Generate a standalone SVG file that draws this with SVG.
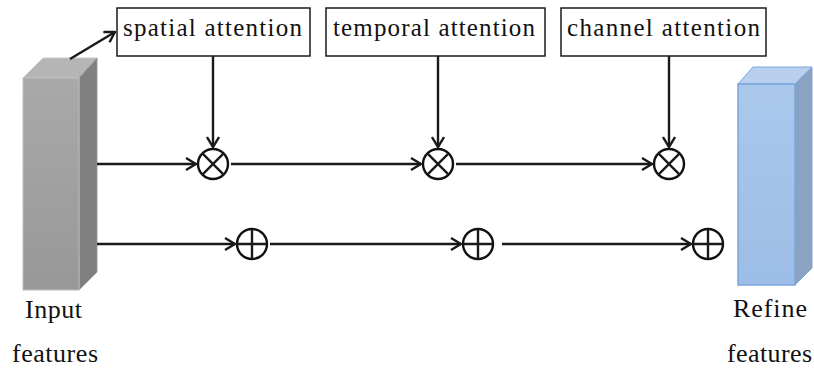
<svg xmlns="http://www.w3.org/2000/svg" width="814" height="369" viewBox="0 0 814 369">
<style>
.lbl{font-family:"Liberation Serif","Times New Roman",serif;font-size:26px;fill:#111}
.bt{font-family:"Liberation Serif","Times New Roman",serif;font-size:25px;fill:#111}
.box{fill:#fff;stroke:#1a1a1a;stroke-width:1.5}
.ln{stroke:#1a1a1a;stroke-width:2.4;fill:none}
.op{fill:#fff;stroke:#111;stroke-width:2.4}
</style>
<defs>
<marker id="ah" viewBox="0 0 12 14" refX="11" refY="7" markerWidth="12" markerHeight="14" markerUnits="userSpaceOnUse" orient="auto">
<path d="M1,1 L11,7 L1,13" fill="none" stroke="#1a1a1a" stroke-width="2.4"/>
</marker>
<linearGradient id="gf" x1="0" y1="0" x2="0" y2="1"><stop offset="0" stop-color="#a9a9a9"/><stop offset="1" stop-color="#989898"/></linearGradient>
<linearGradient id="bf" x1="0" y1="0" x2="0" y2="1"><stop offset="0" stop-color="#abc8ec"/><stop offset="1" stop-color="#9cbde6"/></linearGradient>
</defs>
<g id="input-block">
<polygon points="23,78 43,58 97,58 79,78" fill="#b5b5b5" stroke="#c8c8c8" stroke-width="1"/>
<polygon points="79,78 97,58 97,272 79,290" fill="#808080" stroke="#9a9a9a" stroke-width="1"/>
<rect x="23" y="78" width="56" height="212" fill="url(#gf)" stroke="#bdbdbd" stroke-width="1"/>
<text class="lbl" x="25" y="318" textLength="57" lengthAdjust="spacing">Input</text>
<text class="lbl" x="12" y="362" textLength="86" lengthAdjust="spacing">features</text>
</g>
<g id="refine-block">
<polygon points="738,84 753,67 812,67 795,84" fill="#b8d0ee" stroke="#7aa6dc" stroke-width="1"/>
<polygon points="795,84 812,67 812,268 795,285" fill="#8aa3c3" stroke="#7aa6dc" stroke-width="1"/>
<rect x="738" y="84" width="57" height="201" fill="url(#bf)" stroke="#7aa6dc" stroke-width="1.5"/>
<text class="lbl" x="733" y="317" textLength="74" lengthAdjust="spacing">Refine</text>
<text class="lbl" x="727" y="362" textLength="85" lengthAdjust="spacing">features</text>
</g>
<g id="spatial-attention">
<rect class="box" x="117" y="8" width="193" height="48"/>
<text class="bt" x="123" y="36" textLength="179" lengthAdjust="spacing">spatial attention</text>
</g>
<g id="temporal-attention">
<rect class="box" x="326" y="8" width="219" height="48"/>
<text class="bt" x="333" y="36" textLength="202" lengthAdjust="spacing">temporal attention</text>
</g>
<g id="channel-attention">
<rect class="box" x="561" y="8" width="205" height="48"/>
<text class="bt" x="567" y="36" textLength="193" lengthAdjust="spacing">channel attention</text>
</g>
<g id="mul1"><circle class="op" cx="213" cy="164" r="15"/><path class="ln" d="M202.4,153.4 L223.6,174.6 M223.6,153.4 L202.4,174.6"/></g>
<g id="mul2"><circle class="op" cx="438" cy="164" r="15"/><path class="ln" d="M427.4,153.4 L448.6,174.6 M448.6,153.4 L427.4,174.6"/></g>
<g id="mul3"><circle class="op" cx="669" cy="164" r="15"/><path class="ln" d="M658.4,153.4 L679.6,174.6 M679.6,153.4 L658.4,174.6"/></g>
<g id="add1"><circle class="op" cx="252" cy="244" r="15"/><path class="ln" d="M237,244 H267 M252,229 V259"/></g>
<g id="add2"><circle class="op" cx="478" cy="244" r="15"/><path class="ln" d="M463,244 H493 M478,229 V259"/></g>
<g id="add3"><circle class="op" cx="708" cy="244" r="15"/><path class="ln" d="M693,244 H723 M708,229 V259"/></g>
<g id="connectors">
<path class="ln" d="M70,59 L115,32" marker-end="url(#ah)"/>
<path class="ln" d="M213,56 V147" marker-end="url(#ah)"/>
<path class="ln" d="M438,56 V147" marker-end="url(#ah)"/>
<path class="ln" d="M669,56 V147" marker-end="url(#ah)"/>
<path class="ln" d="M97,164 H196" marker-end="url(#ah)"/>
<path class="ln" d="M231,164 H421" marker-end="url(#ah)"/>
<path class="ln" d="M456,164 H652" marker-end="url(#ah)"/>
<path class="ln" d="M97,244 H235" marker-end="url(#ah)"/>
<path class="ln" d="M270,244 H461" marker-end="url(#ah)"/>
<path class="ln" d="M502,244 H691" marker-end="url(#ah)"/>
</g>
</svg>
